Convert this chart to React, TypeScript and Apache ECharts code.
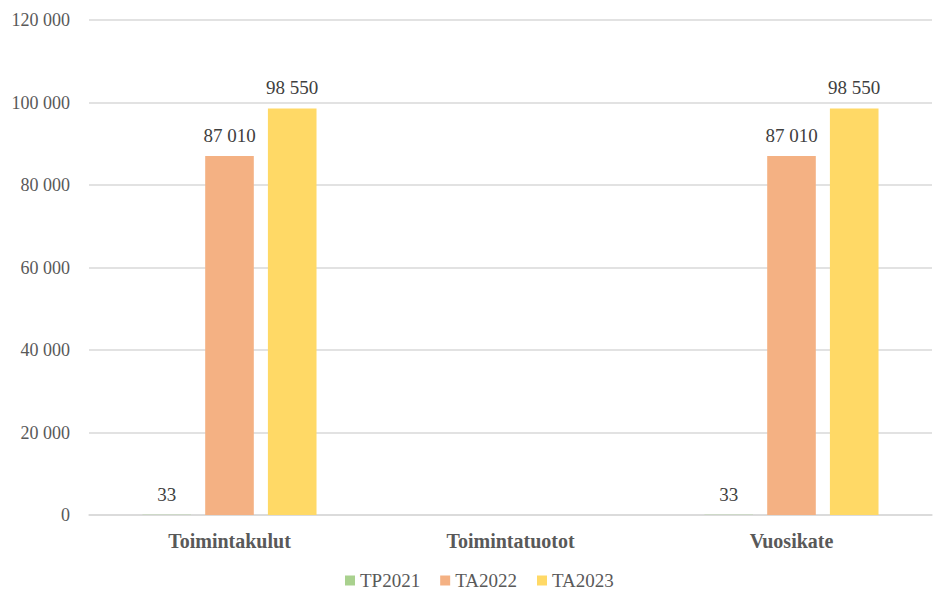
import React, { useEffect, useRef } from "react";
import * as echarts from "echarts";

const categories = ["Toimintakulut", "Toimintatuotot", "Vuosikate"];
const seriesNames = ["TP2021", "TA2022", "TA2023"];
const tp2021 = [33, null, 33];
const ta2022 = [87010, null, 87010];
const ta2023 = [98550, null, 98550];
const colors = ["#A9D18E", "#F4B183", "#FFD966"];
const yMin = 0;
const yMax = 120000;
const yInterval = 20000;

const fmt = (v: number) => String(v).replace(/\B(?=(\d{3})+(?!\d))/g, " ");
const FONT = "'Liberation Serif', serif";

export default function App() {
  const ref = useRef<HTMLDivElement>(null);
  useEffect(() => {
    if (!ref.current) return;
    const chart = echarts.init(ref.current, null, { renderer: "svg" });
    const data = [tp2021, ta2022, ta2023];
    chart.setOption({
      animation: false,
      textStyle: { fontFamily: FONT },
      grid: { left: 89, right: 3, top: 20, bottom: 95, containLabel: false },
      legend: {
        data: seriesNames,
        left: 345,
        top: 571,
        padding: 0,
        itemWidth: 10,
        itemHeight: 10,
        itemGap: 20,
        icon: "rect",
        textStyle: { fontFamily: FONT, fontSize: 19, color: "#595959" },
      },
      xAxis: {
        type: "category",
        data: categories,
        axisTick: { show: false },
        axisLine: { lineStyle: { color: "#D9D9D9", width: 1.5 } },
        axisLabel: {
          fontFamily: FONT,
          fontSize: 20,
          fontWeight: "bold",
          color: "#595959",
          margin: 16,
        },
      },
      yAxis: {
        type: "value",
        min: yMin,
        max: yMax,
        interval: yInterval,
        axisLine: { show: false },
        axisTick: { show: false },
        splitLine: { lineStyle: { color: "#D9D9D9", width: 1.5 } },
        axisLabel: {
          fontFamily: FONT,
          fontSize: 18,
          color: "#595959",
          margin: 19,
          formatter: (v: number) => fmt(v),
        },
      },
      series: seriesNames.map((name, i) => ({
        name,
        type: "bar",
        data: data[i],
        barWidth: "17.3%",
        barGap: "29%",
        itemStyle: { color: colors[i] },
        label: {
          show: true,
          position: "top",
          distance: 11,
          fontFamily: FONT,
          fontSize: 19,
          color: "#404040",
          formatter: (p: any) => (p.value == null ? "" : fmt(p.value)),
        },
      })),
    });
    return () => chart.dispose();
  }, []);
  return (
    <div
      ref={ref}
      style={{ position: "absolute", left: 0, top: 0, width: 935, height: 610, background: "#fff" }}
    />
  );
}
